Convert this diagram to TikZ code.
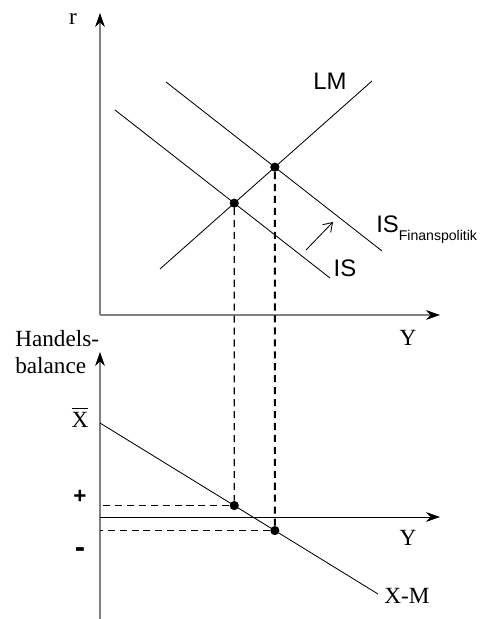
\documentclass[tikz,border=0pt]{standalone}
\usepackage{amsmath}
\usepackage{fontspec}
\setmainfont{Liberation Serif}
\setsansfont{Liberation Sans}
\usetikzlibrary{arrows.meta,calc}
\definecolor{axisGray}{RGB}{128,128,128}

\begin{document}
\begin{tikzpicture}[
    axis/.style={draw=axisGray, line width=0.8pt, -{Stealth[length=10pt, width=7pt, black]}},
    curve/.style={black, line width=0.6pt},
    guide/.style={black, line width=0.9pt, dash pattern=on 5pt off 3.5pt},
    guidethick/.style={guide, line width=1.5pt},
    dot/.style={circle, fill=black, inner sep=0pt, minimum size=0.23cm},
    serif/.style={font=\fontsize{16.5}{19}\selectfont},
    sans/.style={font=\fontsize{17}{20}\selectfont\sffamily}
]
    \useasboundingbox (0,0) rectangle (12.075,15.475);

    % IS-LM axes
    \coordinate (o1) at (2.5,7.6);
    \coordinate (r1) at (2.5,15.15);
    \coordinate (y1) at (11.0,7.6);
    \draw[axis] (o1) -- (r1);
    \draw[axis] (o1) -- (y1);
    \node[serif] (rlab) at (1.825,15.0) {r};
    \node[serif] (ylab1) at (10.2,7.025) {Y};

    % LM, IS and shifted IS
    \coordinate (lm1) at (4.0,8.75);
    \coordinate (lm2) at (9.3,13.45);
    \coordinate (is1) at (2.875,12.725);
    \coordinate (is2) at (8.25,8.525);
    \coordinate (isf1) at (4.15,13.425);
    \coordinate (isf2) at (9.55,9.2);
    \draw[curve] (lm1) -- (lm2);
    \draw[curve] (is1) -- (is2);
    \draw[curve] (isf1) -- (isf2);
    \node[sans] (lmlab) at (8.25,13.45) {LM};
    \node[sans] (islab) at (8.625,8.775) {IS};
    \node[sans, anchor=base west, inner sep=0pt] (isflab) at (9.4,9.65)
        {IS\raisebox{-0.3em}{\fontsize{10}{12}\selectfont Finanspolitik}};

    % shift arrow
    \coordinate (sh1) at (7.65,9.225);
    \coordinate (sh2) at (8.325,9.925);
    \draw[curve, -{Straight Barb[length=6pt, width=8pt]}] (sh1) -- (sh2);

    % equilibria
    \coordinate (A) at (intersection of lm1--lm2 and is1--is2);
    \coordinate (B) at (intersection of lm1--lm2 and isf1--isf2);
    \node[dot] (pA) at (A) {};
    \node[dot] (pB) at (B) {};

    % trade balance axes
    \coordinate (o2) at (2.5,2.55);
    \coordinate (h0) at (2.5,0);
    \coordinate (h1) at (2.5,6.675);
    \coordinate (y2) at (11.0,2.55);
    \draw[axis] (h0) -- (h1);
    \draw[black, line width=0.7pt, -{Stealth[length=10pt, width=7pt]}] (o2) -- (y2);
    \node[serif, align=left, anchor=north west, inner sep=0pt] (hlab) at (0.375,7.22) {Handels-\\balance};
    \node[serif] (xbar) at (2.0,5.05) {$\overline{\text{X}}$};
    \node[font=\fontsize{16}{19}\selectfont\sffamily\bfseries] (plus) at (2.0,3.04) {+};
    \node[font=\fontsize{22}{24}\selectfont\sffamily\bfseries] (minus) at (2.0,1.65) {-};
    \node[serif] (ylab2) at (10.2,2.025) {Y};

    % X-M line
    \coordinate (xm1) at (2.5,4.9);
    \coordinate (xm2) at (9.45,0.625);
    \draw[curve] (xm1) -- (xm2);
    \node[serif] (xmlab) at (10.175,0.575) {X-M};

    % projections
    \coordinate (Adown) at (A |- o2);
    \coordinate (Bdown) at (B |- o2);
    \coordinate (C) at (intersection of xm1--xm2 and A--Adown);
    \coordinate (D) at (intersection of xm1--xm2 and B--Bdown);
    \node[dot] (pC) at (C) {};
    \node[dot] (pD) at (D) {};
    \draw[guide] (pA) -- (pC);
    \draw[guidethick] (pB) -- (pD);
    \draw[guide] (pC) -- (pC -| h0);
    \draw[guide] (pD) -- (pD -| h0);
\end{tikzpicture}
\end{document}
